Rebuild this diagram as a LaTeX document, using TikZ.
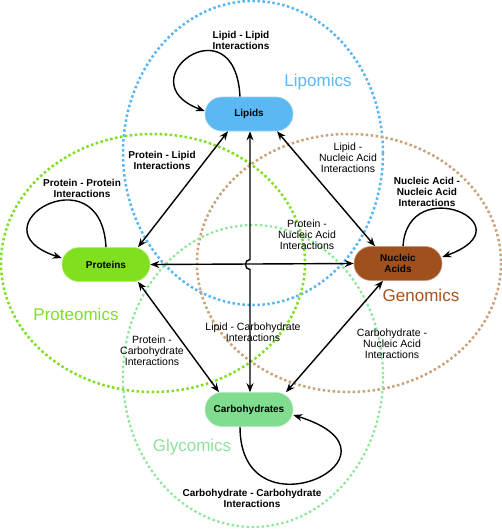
\documentclass[tikz,border=0pt]{standalone}
\usepackage{fontspec}
\setmainfont{Liberation Sans}
\usetikzlibrary{arrows.meta,calc}
\definecolor{lipc}{HTML}{5CB8F2}
\definecolor{proc}{HTML}{80E020}
\definecolor{nucc}{HTML}{A0501C}
\definecolor{carc}{HTML}{80DC8E}
\definecolor{lipring}{HTML}{5AB6F2}
\definecolor{proring}{HTML}{7EE020}
\definecolor{nucring}{HTML}{C8A47A}
\definecolor{carring}{HTML}{8EE89A}
\definecolor{nuctext}{HTML}{A8541E}
\definecolor{cartext}{HTML}{90E09C}
\tikzset{
  ring/.style={line width=2.5pt, dash pattern=on 2.5pt off 2.5pt},
  molbox/.style={rectangle, rounded corners=17pt, minimum width=88pt, minimum height=34pt,
    inner sep=0pt, align=center, text=black, font=\fontsize{10}{11}\selectfont\bfseries},
  lab/.style={align=center, inner sep=0pt, font=\fontsize{10.5}{11}\selectfont},
  blab/.style={align=center, inner sep=0pt, font=\fontsize{10}{11}\selectfont\bfseries},
  omic/.style={inner sep=0pt, font=\fontsize{17}{20}\selectfont},
  link/.style={line width=1.4pt, {Stealth[length=9pt,width=7pt]}-{Stealth[length=9pt,width=7pt]}},
  selfloop/.style={line width=1.4pt, -{Stealth[length=9pt,width=7pt]}}
}
\begin{document}
\begin{tikzpicture}[x=1pt,y=-1pt]
\useasboundingbox (0,0) rectangle (502,530);
\fill[white] (0,0) rectangle (502,530);

% domain rings
\draw[ring, color=lipring] (253,153) ellipse [x radius=130, y radius=152];
\draw[ring, color=proring] (153,263) ellipse [x radius=152, y radius=129];
\draw[ring, color=nucring] (349,263) ellipse [x radius=152, y radius=129];
\draw[ring, color=carring, line width=2.2pt] (253,376) ellipse [x radius=130, y radius=151];

% molecule nodes
\node[molbox, fill=lipc, draw=lipc!60!white, line width=0.6pt] (lip) at (249,114) {Lipids};
\node[molbox, fill=proc, draw=proc!60!white, line width=0.6pt] (pro) at (106,264.5) {Proteins};
\node[molbox, fill=nucc, draw=nucc!60!white, line width=0.6pt] (nuc) at (398,263.5) {Nucleic\\Acids};
\node[molbox, fill=carc, draw=carc!60!white, line width=0.6pt] (car) at (249,409.5) {Carbohydrates};

% pairwise links
\draw[link] ([xshift=-21pt]lip.south) -- ([xshift=32pt]pro.north);
\draw[link] ([xshift=28pt]lip.south) -- ([xshift=-23pt]nuc.north);
\draw[link] ([xshift=32pt]pro.south) -- ([xshift=-30pt]car.north);
\draw[link] ([xshift=-15pt]nuc.south) -- ([xshift=37pt]car.north);
\draw[link] (pro.east) -- (nuc.west);
\coordinate (vt) at ([xshift=1pt]lip.south);
\coordinate (vb) at ([xshift=1pt]car.north);
\coordinate (X) at (vt |- pro.east);
\draw[link] (vt) -- ([yshift=5pt]X) .. controls ([xshift=-6pt,yshift=5pt]X) and ([xshift=-6pt,yshift=-5pt]X) .. ([yshift=-5pt]X) -- (vb);

% self loops
\draw[selfloop] ([xshift=-9pt]lip.north) .. controls +(-5,-97) and +(-80,-30) .. ([yshift=3pt]lip.west);
\draw[selfloop] (pro.north) .. controls +(-5,-97) and +(-92,-30) .. ([yshift=6.5pt]pro.west);
\draw[selfloop] ([xshift=5pt]nuc.north) .. controls +(5,-75) and +(88,-32) .. ([yshift=6.5pt]nuc.east);
\draw[selfloop] ([xshift=-9pt]car.south) .. controls +(0,115) and +(128,40) .. ([yshift=-5.5pt]car.east);

% domain names
\node[omic, text=lipc] (tlip) at (318,82) {Lipomics};
\node[omic, text=proc] (tpro) at (76,314) {Proteomics};
\node[omic, text=nuctext] (tnuc) at (421,295) {Genomics};
\node[omic, text=cartext] (tcar) at (192,447) {Glycomics};

% interaction labels
\node[blab] (l1) at (241,40.5) {Lipid - Lipid\\Interactions};
\node[blab] (l2) at (162,160) {Protein - Lipid\\Interactions};
\node[lab]  (l3) at (348,158) {Lipid -\\Nucleic Acid\\Interactions};
\node[blab] (l4) at (82,188.5) {Protein - Protein\\Interactions};
\node[blab] (l5) at (427,191.5) {Nucleic Acid -\\Nucleic Acid\\Interactions};
\node[lab]  (l6) at (307,235) {Protein -\\Nucleic Acid\\Interactions};
\node[lab]  (l7) at (253,332.5) {Lipid - Carbohydrate\\Interactions};
\node[lab]  (l8) at (152,351) {Protein -\\Carbohydrate\\Interactions};
\node[lab]  (l9) at (392,344) {Carbohydrate -\\Nucleic Acid\\Interactions};
\node[blab] (l10) at (252,498.5) {Carbohydrate - Carbohydrate\\Interactions};
\end{tikzpicture}
\end{document}
